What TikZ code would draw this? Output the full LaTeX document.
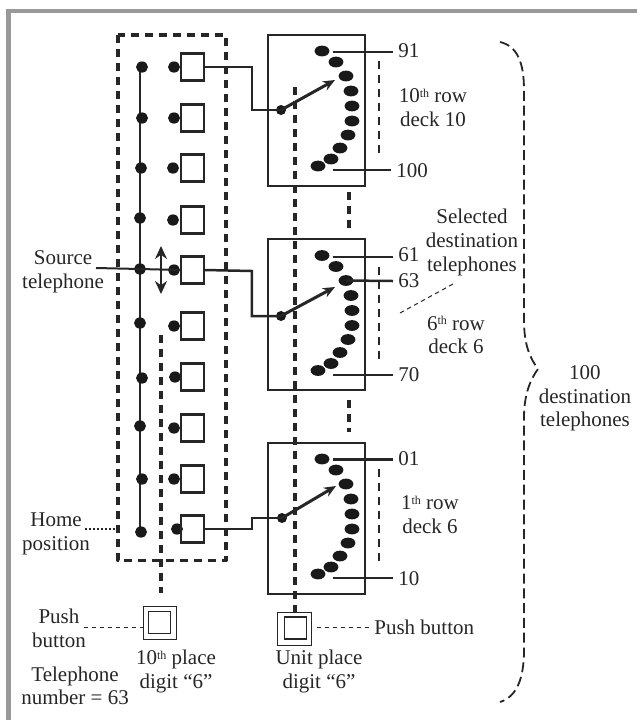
\documentclass[tikz,border=0pt]{standalone}
\usepackage{fontspec}
\setmainfont{Liberation Serif}
\usetikzlibrary{shapes,arrows.meta}
\newcommand{\ordth}{\raisebox{0.55ex}{\fontsize{6}{6}\selectfont th}}

\begin{document}
\begin{tikzpicture}[
    x=0.5pt, y=-0.5pt,
    every node/.style={font=\fontsize{10.5}{11.8}\selectfont, text=black!85, align=center},
    contact/.style={ellipse, fill=black!90, inner sep=0pt, minimum width=7.4pt, minimum height=5.4pt},
    smalldot/.style={ellipse, fill=black!90, inner sep=0pt, minimum width=6pt, minimum height=5.6pt},
    selector/.style={rectangle, draw=black!85, line width=1.2pt, inner sep=0pt, minimum width=11.5pt, minimum height=13.5pt},
    deck/.style={rectangle, draw=black!85, line width=1pt, inner sep=0pt, minimum width=48.5pt, minimum height=75.5pt},
    outerbtn/.style={rectangle, draw=black!85, line width=0.5pt, inner sep=0pt, minimum width=16.5pt, minimum height=16.5pt},
    innerbtn/.style={rectangle, draw=black!85, line width=0.8pt, inner sep=0pt, minimum width=11pt, minimum height=11pt},
    number/.style={anchor=west, inner sep=0pt, inner xsep=2.5pt},
    wire/.style={draw=black!85, line width=1.25pt},
    gang/.style={draw=black!85, line width=1.7pt, dash pattern=on 4pt off 3pt},
    leader/.style={draw=black!85, line width=0.5pt, dash pattern=on 2.2pt off 1.8pt}
]
\useasboundingbox (0,0) rectangle (637,720);

% Frame
\draw [black!40, line width=2.2pt] (8.5,720) -- (8.5,11) -- (637,11);

% Selector bank
\draw [gang, line join=round] (118,35) rectangle (226,560.5);
\coordinate (bankfirst) at (140,67);
\coordinate (banklast) at (140,532);
\draw [wire] (bankfirst) -- (banklast);
\foreach \i/\y/\ya/\yb/\xa/\xb in {1/67/67/67/142/174, 2/118/118/118/142/174, 3/168/168/168/141/173, 4/218/218/220/140/173, 5/269/269/270/140/174, 6/323/323/326/140/174, 7/378/378/377/142/175, 8/426/426/428/140/174, 9/479/479/479/142/174, 10/532/532/529/141/177} {
    \node [smalldot] (wiper\i) at (\xa,\ya) {};
    \node [smalldot] (bank\i) at (\xb,\yb) {};
    \node [selector] (sel\i) at (192.5,\yb) {};
}

% Source telephone
\node (source) at (63,271.5) {Source\\telephone};
\coordinate (sourceend) at (96,268);
\draw [wire, line width=1pt] (sourceend) -- (wiper5.center) -- (sel5.west);
\coordinate (movetop) at (161,246);
\coordinate (movebot) at (161,294);
\draw [wire, {Stealth[length=6.5pt,width=6pt]}-{Stealth[length=6.5pt,width=6pt]}, line width=1.4pt] (movetop) -- (movebot);

% Decks
\foreach \d/\top/\wx/\wy/\tipx/\tipy in {a/35/281/110/335/80, b/239.5/281/316/335/287, c/443/282/518/336/486} {
    \node [deck] (deck\d) at (316.5,\top+75.25) {};
    \foreach \n/\x/\off in {1/322/16, 2/336/27, 3/346/41, 4/351/56, 5/352/71, 6/352/86, 7/348/100, 8/340/113, 9/331/124, 10/318/131} {
        \node [contact] (\d\n) at (\x,\top+\off) {};
    }
    \node [smalldot, minimum width=5pt, minimum height=5pt] (wiper\d) at (\wx,\wy) {};
    \coordinate (tip\d) at (\tipx,\tipy);
    \draw [wire, -{Stealth[length=6pt,width=5pt]}, line width=1.5pt] (wiper\d.center) -- (tip\d);
}

% Selector to deck wiper
\coordinate (benda) at (252,67);
\coordinate (bendb) at (252,271);
\coordinate (bendc) at (252,529);
\draw [wire] (sel1.east) -- (benda) |- (wipera.center);
\draw [wire] (sel5.east) -- (bendb) |- (wiperb.center);
\draw [wire] (sel10.east) -- (bendc) |- (wiperc.center);

% Contact numbers
\node [number] (n91) at (393,51) {91};
\node [number] (n100) at (391,171) {100};
\node [number] (n61) at (393,255) {61};
\node [number] (n63) at (393,281) {63};
\node [number] (n70) at (393,375) {70};
\node [number] (n01) at (393,459) {01};
\node [number] (n10) at (393,579) {10};
\coordinate (s91) at (333,52);
\coordinate (s100) at (333,170);
\coordinate (s61) at (333,257);
\coordinate (s70) at (333,375);
\coordinate (s01) at (333,459.5);
\coordinate (s10) at (333,578);
\draw [wire] (s91) -- (s91 -| n91.west);
\draw [wire] (s100) -- (s100 -| n100.west);
\draw [wire] (s61) -- (s61 -| n61.west);
\draw [wire] (b3.center) -- (n63.west);
\draw [wire] (s70) -- (s70 -| n70.west);
\draw [wire] (s01) -- (s01 -| n01.west);
\draw [wire] (s10) -- (s10 -| n10.west);

% Ganged shafts
\coordinate (rowa1) at (379,61);
\coordinate (rowa2) at (379,157);
\coordinate (rowb1) at (379,267);
\coordinate (rowb2) at (379,361);
\coordinate (rowc1) at (379,469);
\coordinate (rowc2) at (379,565);
\draw [gang, line width=1.2pt] (rowa1) -- (rowa2);
\draw [gang, line width=1.2pt] (rowb1) -- (rowb2);
\draw [gang, line width=1.2pt] (rowc1) -- (rowc2);
\coordinate (linka1) at (349,192);
\coordinate (linka2) at (349,233);
\coordinate (linkb1) at (349,400);
\coordinate (linkb2) at (349,432);
\draw [gang] (linka1) -- (linka2);
\draw [gang] (linkb1) -- (linkb2);

% Push buttons
\node [outerbtn] (btnten) at (160.5,623) {};
\node [innerbtn] (btntenin) at (159.5,622.5) {};
\node [outerbtn, minimum width=17pt] (btnunit) at (295,628.5) {};
\node [innerbtn] (btnunitin) at (295.5,628) {};
\coordinate (shaftten) at (161,335);
\coordinate (tenend) at (161,593);
\coordinate (shaftunit) at (295,87);
\draw [gang] (shaftten) -- (tenend);
\draw [gang] (shaftunit) -- (btnunit.north);

\node (pushten) at (59,628.5) {Push\\button};
\coordinate (pushtenend) at (84,627);
\draw [leader] (pushtenend) -- (pushtenend -| btnten.west);
\node [number] (pushunit) at (369,627.5) {Push button};
\coordinate (pushunitend) at (317,627.5);
\draw [leader] (pushunitend) -- (pushunit.west);

\node (tenplace) at (176,671.5) {10\ordth\ place\\digit ``6''};
\node (unitplace) at (319,671.5) {Unit place\\digit ``6''};
\node (number) at (75,686) {Telephone\\number = 63};

% Home position
\node (home) at (56,534) {Home\\position};
\coordinate (homeend) at (116,529);
\coordinate (homestart) at (85,529);
\draw [draw=black!85, line width=1.1pt, dash pattern=on 1.1pt off 0.9pt] (homestart) -- (homeend);

% Row labels
\node (rowten) at (433,107.5) {10\ordth\ row\\deck 10};
\node (rowsix) at (456,335) {6\ordth\ row\\deck 6};
\node (rowone) at (430,514.5) {1\ordth\ row\\deck 6};
\node (selected) at (472,242.5) {Selected\\destination\\telephones};
\coordinate (selfrom) at (453,284);
\coordinate (selto) at (400,313);
\draw [leader] (selfrom) -- (selto);

% Brace
\coordinate (braceend) at (500,702);
\node (total) at (585,398.5) {100\\destination\\telephones};
\draw [draw=black!85, line width=0.9pt, dash pattern=on 5pt off 2.4pt]
    (500,42) .. controls (517,46) and (524,62) .. (524,90) -- (524,320)
    .. controls (524,345) and (530,358) .. (538,369)
    .. controls (530,380) and (524,395) .. (524,418) -- (524,650)
    .. controls (524,680) and (516,697) .. (braceend);

\end{tikzpicture}
\end{document}
